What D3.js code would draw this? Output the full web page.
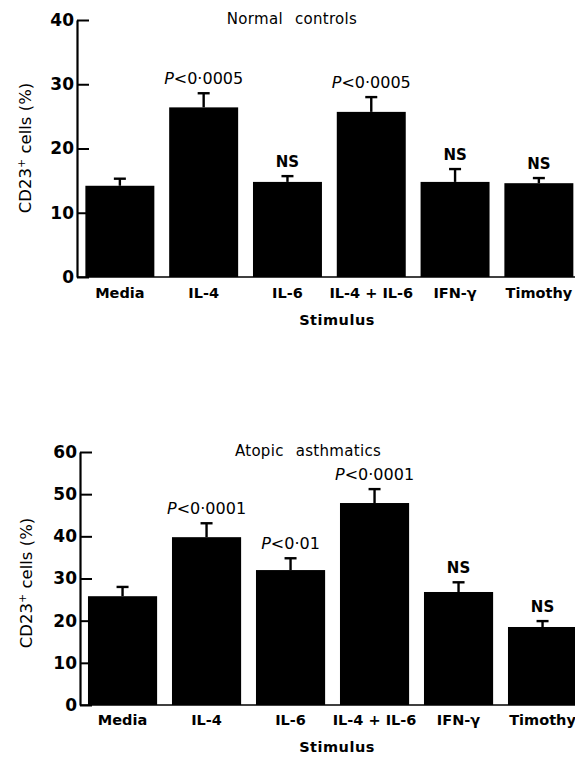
<!DOCTYPE html>
<html>
<head>
<meta charset="utf-8">
<script src="https://cdn.jsdelivr.net/npm/d3@7"></script>
<style>
  body { margin: 0; background: #fff; }
  text { font-family: "DejaVu Sans", sans-serif; fill: #000; }
</style>
</head>
<body>
<svg id="chart" width="575" height="758"></svg>
<script>
// stimulus categories, shared by both panels
var stimuli = ["Media", "IL-4", "IL-6", "IL-4+IL-6", "IFN-γ", "Timothy"];
var xLabels = ["Media", "IL-4", "IL-6", "IL-4 + IL-6", "IFN-γ", "Timothy"];

// normal controls
var normalMeans = [14.2, 26.4, 14.8, 25.7, 14.8, 14.6];
var normalErr = [1.1, 2.2, 0.9, 2.3, 2.0, 0.8];
var normalSig = ["", "P<0·0005", "NS", "P<0·0005", "NS", "NS"];
var normalTicks = [0, 10, 20, 30, 40];

// atopic asthmatics
var atopicMeans = [25.8, 39.8, 32.0, 47.9, 26.8, 18.5];
var atopicErr = [2.2, 3.3, 2.8, 3.3, 2.3, 1.4];
var atopicSig = ["", "P<0·0001", "P<0·01", "P<0·0001", "NS", "NS"];
var atopicTicks = [0, 10, 20, 30, 40, 50, 60];

var svg = d3.select("#chart");

// draws one panel; top/bottom are pixel rows of max tick and zero
var drawPanel = function (opt) {
    var y = d3.scaleLinear()
        .domain([0, d3.max(opt.ticks)])
        .range([opt.bottom, opt.top]);

    var x = d3.scaleBand()
        .domain(stimuli)
        .range([opt.left, opt.left + opt.step * (stimuli.length - 0.177 + 2 * opt.outer)])
        .paddingInner(0.177)
        .paddingOuter(opt.outer);

    var g = svg.append("g");

    // baseline
    g.append("line")
        .attr("x1", opt.left).attr("x2", 575)
        .attr("y1", y(0)).attr("y2", y(0))
        .attr("stroke", "#000").attr("stroke-width", 1.6);

    // bars
    var data = stimuli.map(function (s, i) {
        return { name: s, mean: opt.means[i], err: opt.err[i], sig: opt.sig[i] };
    });

    g.selectAll("rect.bar")
        .data(data)
        .enter()
        .append("rect")
        .attr("class", "bar")
        .attr("x", function (d) { return x(d.name); })
        .attr("width", x.bandwidth())
        .attr("y", function (d) { return y(d.mean); })
        .attr("height", function (d) { return y(0) - y(d.mean); })
        .attr("fill", "#000");

    // error bars (upper only)
    g.selectAll("line.err")
        .data(data)
        .enter()
        .append("line")
        .attr("class", "err")
        .attr("x1", function (d) { return x(d.name) + x.bandwidth() / 2; })
        .attr("x2", function (d) { return x(d.name) + x.bandwidth() / 2; })
        .attr("y1", function (d) { return y(d.mean); })
        .attr("y2", function (d) { return y(d.mean + d.err); })
        .attr("stroke", "#000").attr("stroke-width", 2.4);

    g.selectAll("line.cap")
        .data(data)
        .enter()
        .append("line")
        .attr("class", "cap")
        .attr("x1", function (d) { return x(d.name) + x.bandwidth() / 2 - 6; })
        .attr("x2", function (d) { return x(d.name) + x.bandwidth() / 2 + 6; })
        .attr("y1", function (d) { return y(d.mean + d.err); })
        .attr("y2", function (d) { return y(d.mean + d.err); })
        .attr("stroke", "#000").attr("stroke-width", 2.4);

    // significance labels
    var sig = g.selectAll("text.sig")
        .data(data.filter(function (d) { return d.sig; }))
        .enter()
        .append("text")
        .attr("class", "sig")
        .attr("x", function (d) { return x(d.name) + x.bandwidth() / 2; })
        .attr("y", function (d) { return y(d.mean + d.err) - 9; })
        .attr("text-anchor", "middle")
        .style("font-size", "16px");
    sig.each(function (d) {
        var t = d3.select(this);
        if (d.sig[0] == "P") {
            t.append("tspan").style("font-style", "italic").text("P");
            t.append("tspan").text(d.sig.slice(1));
        } else {
            t.style("font-weight", "bold").style("font-size", "15px").text(d.sig);
        }
    });

    // y axis, ticks pointing into the plot
    var yAxis = g.append("g")
        .attr("transform", "translate(" + opt.left + ",0)")
        .call(d3.axisLeft(y).tickValues(opt.ticks).tickSizeInner(-12).tickSizeOuter(0).tickPadding(3));
    yAxis.select(".domain").attr("stroke-width", 2.2);
    yAxis.selectAll(".tick line").attr("stroke-width", 2);
    yAxis.selectAll(".tick text")
        .style("font-family", "DejaVu Sans")
        .style("font-size", "17px")
        .style("font-weight", "bold")
        .attr("fill", "#000");

    // category labels
    g.selectAll("text.cat")
        .data(stimuli)
        .enter()
        .append("text")
        .attr("class", "cat")
        .attr("x", function (d) { return x(d) + x.bandwidth() / 2; })
        .attr("y", y(0) + opt.catDy)
        .attr("text-anchor", "middle")
        .style("font-size", "14.5px")
        .style("font-weight", "bold")
        .text(function (d, i) { return xLabels[i]; });

    g.append("text")
        .attr("x", 337)
        .attr("y", y(0) + opt.catDy + 27)
        .attr("text-anchor", "middle")
        .style("font-size", "14.5px")
        .style("font-weight", "bold")
        .style("letter-spacing", "0.5px")
        .text("Stimulus");

    // panel title
    g.append("text")
        .attr("x", opt.titleX)
        .attr("y", opt.titleY)
        .attr("text-anchor", "middle")
        .style("font-size", "15px")
        .style("word-spacing", "7px")
        .style("letter-spacing", "0.3px")
        .text(opt.title);

    // y axis title
    var yl = g.append("text")
        .attr("transform", "translate(" + opt.ylX + "," + opt.ylY + ") rotate(-90)")
        .attr("text-anchor", "middle")
        .style("font-size", "16.5px");
    yl.append("tspan").text("CD23");
    yl.append("tspan").attr("baseline-shift", "super").style("font-size", "11px").text("+");
    yl.append("tspan").text(" cells (%)");
};

drawPanel({
    means: normalMeans, err: normalErr, sig: normalSig, ticks: normalTicks,
    top: 20, bottom: 277, left: 77, step: 83.8, outer: 0.1,
    catDy: 21, title: "Normal controls", titleX: 292, titleY: 24,
    ylX: 31, ylY: 148
});

drawPanel({
    means: atopicMeans, err: atopicErr, sig: atopicSig, ticks: atopicTicks,
    top: 452, bottom: 705, left: 80, step: 84, outer: 0.095,
    catDy: 20, title: "Atopic asthmatics", titleX: 308, titleY: 456,
    ylX: 32, ylY: 583
});
</script>
</body>
</html>
